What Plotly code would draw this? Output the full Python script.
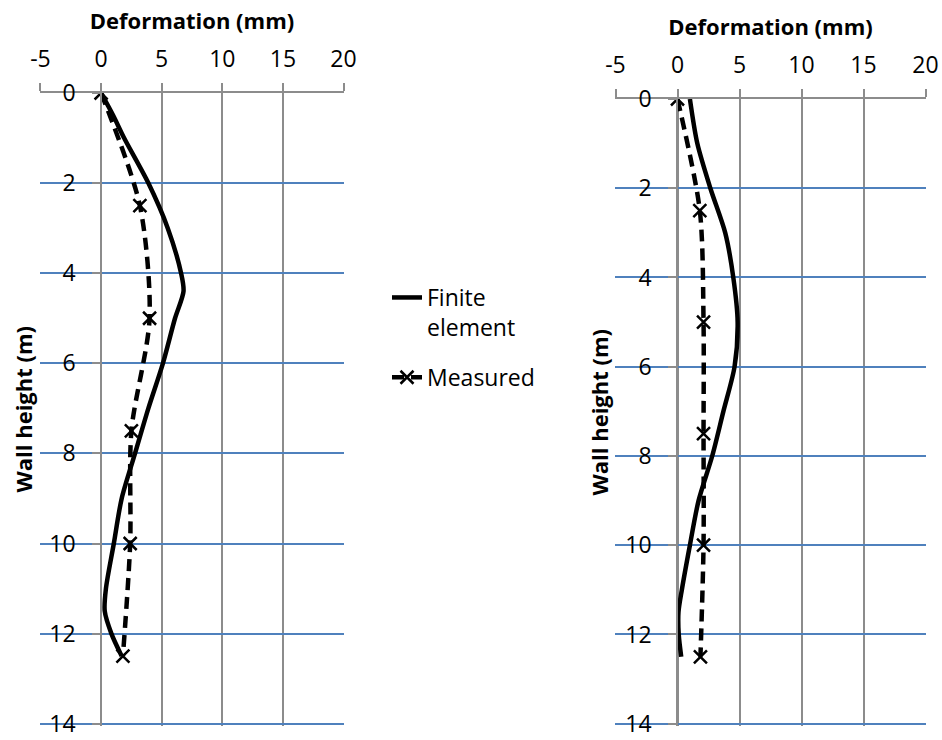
import plotly.graph_objects as go

# ---- data ----
ticks_x = [-5, 0, 5, 10, 15, 20]
ticks_y = [0, 2, 4, 6, 8, 10, 12, 14]

fe_left_depth = [0, 0.5, 1, 2, 3, 4, 4.4, 5, 6, 7, 8, 9, 10, 11, 11.5, 12, 12.5]
fe_left_def = [0, 1.0, 1.9, 3.9, 5.5, 6.6, 6.8, 6.1, 5.1, 3.9, 2.8, 1.7, 1.05, 0.4, 0.3, 0.85, 1.7]

meas_depth = [0, 2.5, 5, 7.5, 10, 12.5]
meas_left_def = [0, 3.2, 4.0, 2.5, 2.4, 1.8]

fe_right_depth = [0, 1, 2, 3, 4, 5, 6, 7, 8, 9, 10, 11, 11.5, 12, 12.5]
fe_right_def = [1.0, 1.6, 2.65, 3.85, 4.5, 4.85, 4.6, 3.7, 2.8, 1.7, 1.0, 0.35, 0.08, 0.1, 0.3]

meas_right_def = [0, 1.8, 2.1, 2.1, 2.1, 1.85]

FONT = "Open Sans"
W, H = 942, 740
GRAY = "#8c8c8c"
BLUE = "#4f81bd"

def px_x(p):
    return p / W

def px_y(p):
    return 1 - p / H

fig = go.Figure()

fe_line = dict(color="black", width=4.5, shape="spline", smoothing=0.8)
meas_line = dict(color="black", width=4.5, dash="12px,7px", shape="spline", smoothing=0.8)
meas_marker = dict(symbol="x-thin-open", size=13, line=dict(color="black", width=2.5), color="black")

fig.add_trace(go.Scatter(x=fe_left_def, y=fe_left_depth, mode="lines", line=fe_line,
                         name="Finite<br>element", legendgroup="fe", xaxis="x", yaxis="y"))
fig.add_trace(go.Scatter(x=meas_left_def, y=meas_depth, mode="lines+markers", line=meas_line,
                         marker=meas_marker, name="Measured", legendgroup="meas", xaxis="x", yaxis="y"))
fig.add_trace(go.Scatter(x=fe_right_def, y=fe_right_depth, mode="lines", line=fe_line,
                         name="Finite<br>element", legendgroup="fe", xaxis="x2", yaxis="y2",
                         showlegend=False))
fig.add_trace(go.Scatter(x=meas_right_def, y=meas_depth, mode="lines+markers", line=meas_line,
                         marker=meas_marker, name="Measured", legendgroup="meas", xaxis="x2", yaxis="y2",
                         showlegend=False))

def xax(domain, anchor):
    return dict(domain=domain, anchor=anchor, side="top", range=[-5.04, 20.04],
                tickmode="array", tickvals=ticks_x, ticktext=[str(t) for t in ticks_x],
                showgrid=True, gridcolor=GRAY, gridwidth=1.5,
                showline=True, linecolor=GRAY, linewidth=1.5,
                ticks="outside", ticklen=8, tickcolor=GRAY, tickwidth=1.5,
                zeroline=False, tickfont=dict(size=23, color="black", family=FONT),
                ticklabelstandoff=7, automargin=False, ticklabeloverflow="allow",
                title=dict(text="<b>Deformation (mm)</b>", font=dict(size=22, color="black", family=FONT),
                           standoff=6))

def yax(domain, pos):
    return dict(domain=domain, anchor="free", position=pos, range=[14.04, 0],
                tickmode="array", tickvals=ticks_y, ticktext=[str(t) for t in ticks_y],
                showgrid=True, gridcolor=BLUE, gridwidth=1.5,
                showline=True, linecolor=GRAY, linewidth=1.5,
                ticks="outside", ticklen=8, tickcolor=GRAY, tickwidth=1.5,
                zeroline=False, tickfont=dict(size=23, color="black", family=FONT),
                ticklabelstandoff=12, automargin=False, ticklabeloverflow="allow",
                title=dict(text="<b>Wall height (m)</b>", font=dict(size=22, color="black", family=FONT),
                           standoff=10))

fig.update_layout(
    width=W, height=H,
    margin=dict(l=0, r=0, t=0, b=0, autoexpand=False),
    paper_bgcolor="white", plot_bgcolor="white",
    font=dict(family=FONT, size=22, color="black"),
    xaxis=xax([px_x(40), px_x(344)], "y"),
    yaxis=yax([px_y(725.5), px_y(93)], px_x(101)),
    xaxis2=xax([px_x(615), px_x(926)], "y2"),
    yaxis2=yax([px_y(725.5), px_y(99)], px_x(677)),
    legend=dict(x=px_x(387), y=px_y(276), xanchor="left", yanchor="top", valign="top",
                font=dict(size=23, family=FONT, color="black"), bgcolor="rgba(0,0,0,0)",
                tracegroupgap=17),
)

fig.write_html("out.html", config={"displayModeBar": False},
               post_script="document.body.style.margin='0';document.body.style.overflow='hidden';")
